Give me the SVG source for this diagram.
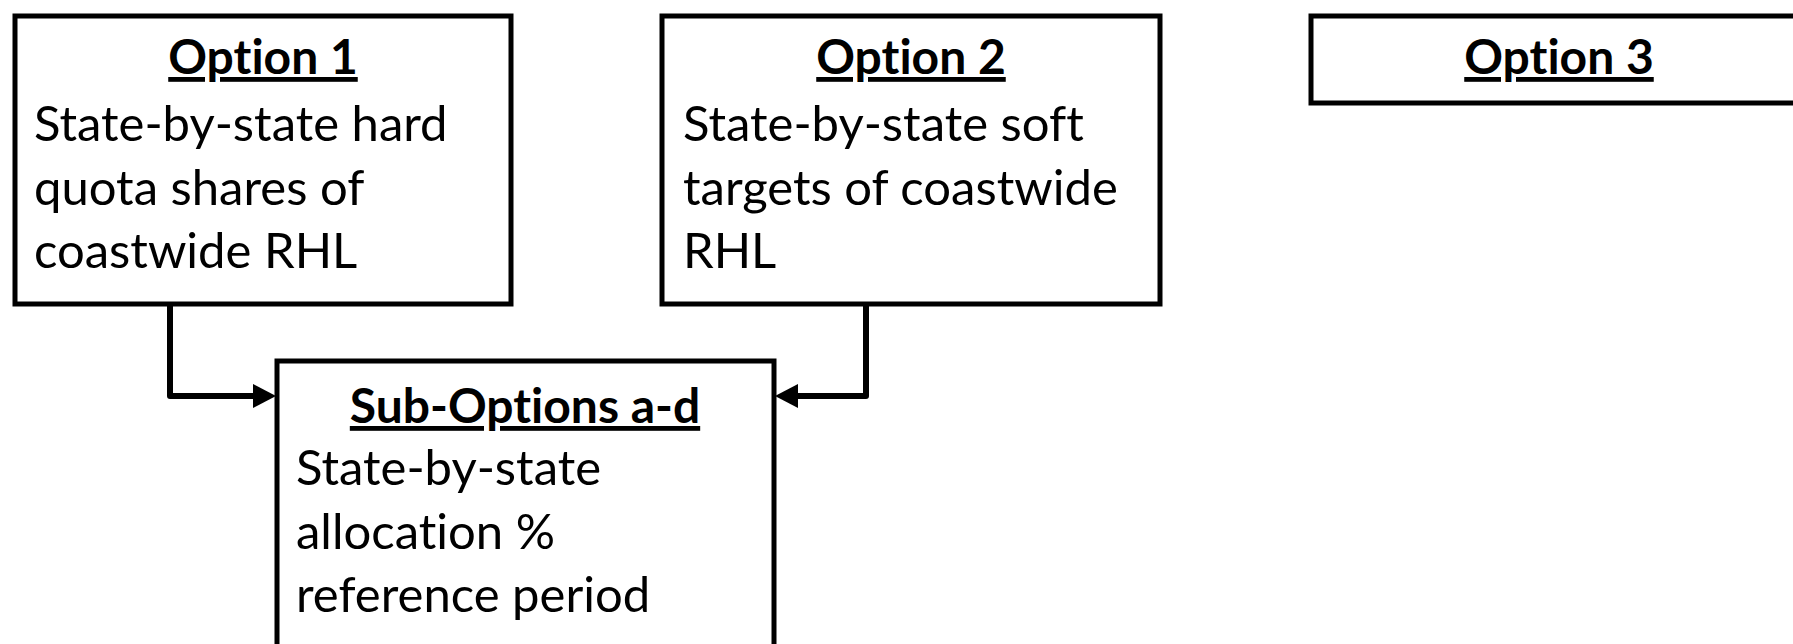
<svg xmlns="http://www.w3.org/2000/svg" width="1793" height="644" viewBox="0 0 1793 644">
<defs>
<style>
.box{fill:#fff;stroke:#000;stroke-width:5}
.t{font-family:Lato,"Liberation Sans",sans-serif;font-size:49px;fill:#000;font-variant-ligatures:none}
.h{font-family:Lato,"Liberation Sans",sans-serif;font-size:48px;font-weight:bold;fill:#000;text-anchor:middle;text-decoration:underline;font-variant-ligatures:none}
.c{fill:none;stroke:#000;stroke-width:6;stroke-linejoin:round}
.ah{fill:#000}
</style>
</defs>
<rect width="1793" height="644" fill="#fff"/>
<g id="connectors">
<path class="c" d="M170,304 V396 H258"/>
<polygon class="ah" points="253,384 276,396 253,408"/>
<path class="c" d="M866,304 V396 H793"/>
<polygon class="ah" points="798,384 775,396 798,408"/>
</g>
<g id="option1">
<rect class="box" x="15" y="16" width="496" height="288"/>
<text class="h" x="263" y="74">Option 1</text>
<text class="t" x="34" y="141">State-by-state hard</text>
<text class="t" x="34" y="205">quota shares of</text>
<text class="t" x="34" y="268">coastwide RHL</text>
</g>
<g id="option2">
<rect class="box" x="662" y="16" width="498" height="288"/>
<text class="h" x="911" y="74">Option 2</text>
<text class="t" x="683" y="141">State-by-state soft</text>
<text class="t" x="683" y="205">targets of coastwide</text>
<text class="t" x="683" y="268">RHL</text>
</g>
<g id="option3">
<rect class="box" x="1311" y="16" width="500" height="87"/>
<text class="h" x="1559" y="74">Option 3</text>
</g>
<g id="suboptions">
<rect class="box" x="277" y="361" width="497" height="300"/>
<text class="h" x="525" y="423">Sub-Options a-d</text>
<text class="t" x="296" y="485">State-by-state</text>
<text class="t" x="296" y="549">allocation %</text>
<text class="t" x="296" y="612">reference period</text>
</g>
</svg>
